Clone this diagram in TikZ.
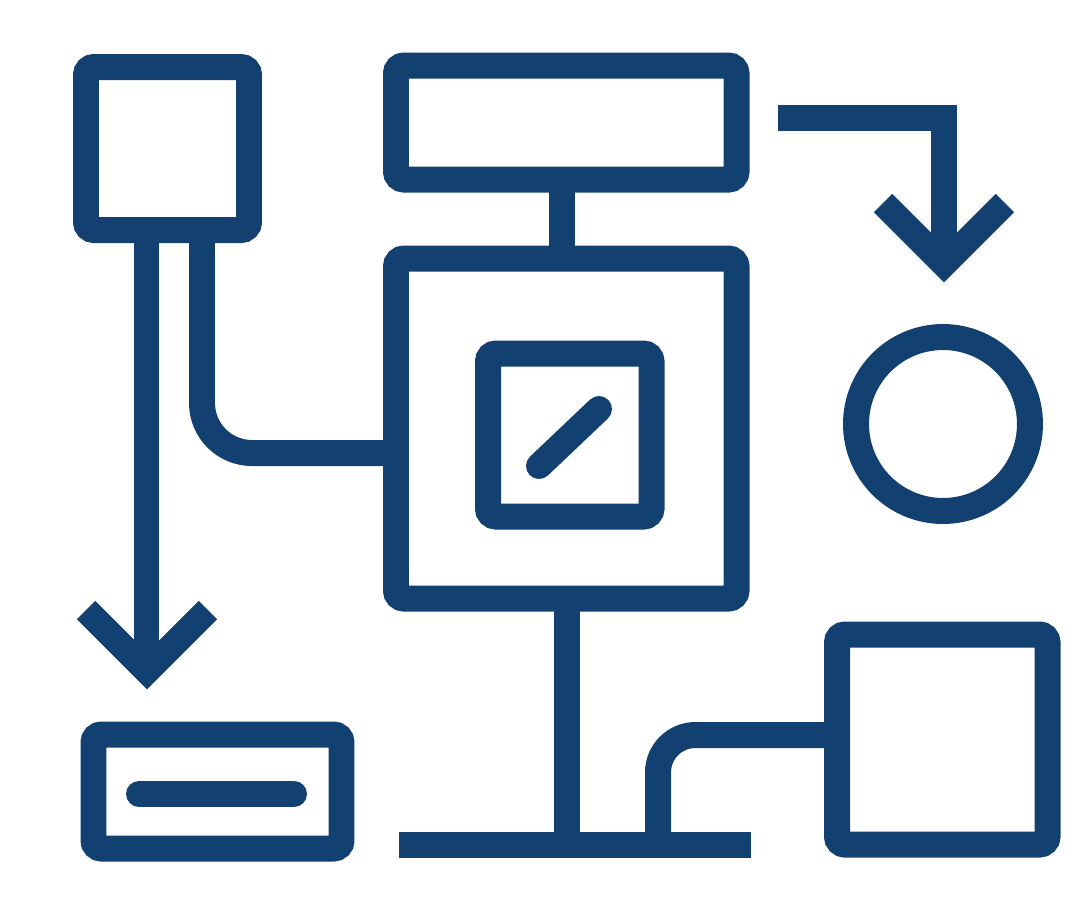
\documentclass[tikz,border=0pt]{standalone}
\usepackage{xcolor}
\definecolor{iconblue}{RGB}{18,64,112}

\begin{document}
\begin{tikzpicture}[x=0.02cm,y=-0.02cm,
    stroke/.style={line width=0.52cm,draw=iconblue},
    box/.style={stroke,rounded corners=0.16cm},
    wire/.style={stroke,rounded corners=1.0cm},
    tick/.style={stroke,line cap=round}]

        % canvas, pixel units, y downwards
        \useasboundingbox (0,0) rectangle (1090,921);

        % Boxes (centre lines of the strokes)
        \draw[box] (86,67) rectangle (249,230);          % top left
        \draw[box] (396,65.5) rectangle (736.5,179.5);   % top centre
        \draw[box] (396,258.5) rectangle (736.5,598.5);  % big centre
        \draw[box] (488,353.5) rectangle (651.5,516.5);  % inner small
        \draw[box] (837,634.5) rectangle (1047.5,844.5); % bottom right
        \draw[box] (93.5,734.5) rectangle (341.5,848.5); % bottom left

        % Marks inside boxes
        \draw[tick] (539,466) -- (599,409);
        \draw[tick] (139,794) -- (294,794);

        % Circle on the right
        \draw[stroke] (943,424) circle (1.74cm);

        % Top connector
        \draw[stroke] (562,179.5) -- (562,258.5);

        % Top right arrow
        \draw[stroke,miter limit=4] (778,117.5) -- (944,117.5) -- (944,262);
        \draw[stroke] (883,203) -- (944,264) -- (1005,203);

        % Left long arrow
        \draw[stroke] (146.5,230) -- (146.5,668);
        \draw[stroke] (86,610) -- (147,671) -- (208,610);

        % Line from top left box to centre box
        \draw[wire] (202,230) -- (202,453) -- (396,453);

        % Bottom bus
        \draw[stroke] (566.5,598.5) -- (566.5,845);
        \draw[stroke] (399,845) -- (751,845);
        \draw[stroke,rounded corners=0.75cm] (658,845) -- (658,735) -- (837,735);

\end{tikzpicture}
\end{document}
